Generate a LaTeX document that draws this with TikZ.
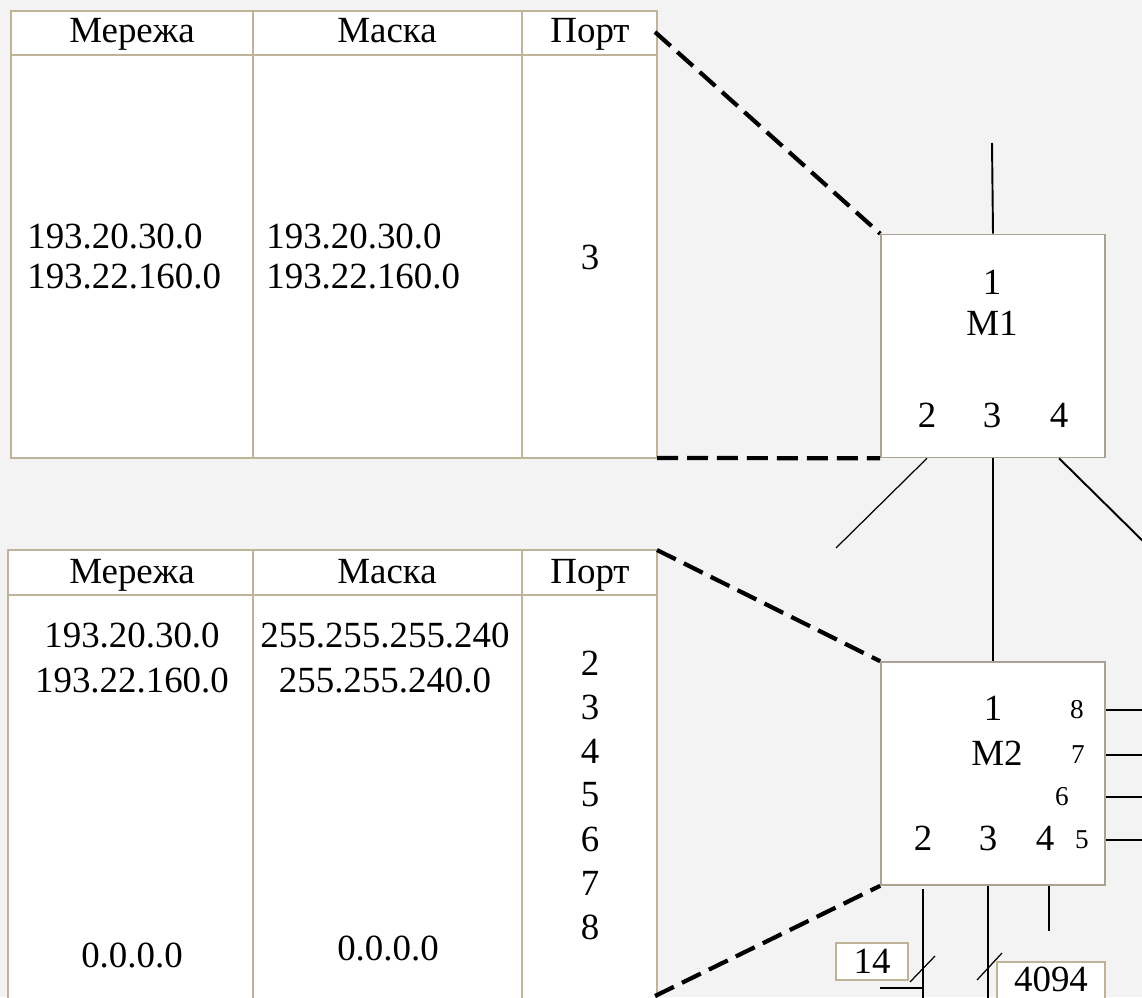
\documentclass[tikz,border=0pt]{standalone}
\usepackage{fontspec}
\setmainfont{Liberation Serif}
\definecolor{frame}{RGB}{192,180,152}
\definecolor{boxframe}{RGB}{170,162,146}
\definecolor{paper}{RGB}{243,243,243}

\begin{document}
\begin{tikzpicture}[x=0.02cm, y=-0.02cm,
    txt/.style={inner sep=0pt, font=\fontsize{21}{24}\selectfont},
    minor/.style={inner sep=0pt, font=\fontsize{15.5}{18}\selectfont},
    tbl/.style={draw=frame, line width=0.8pt},
    sw/.style={draw=boxframe, fill=white, line width=0.9pt, minimum width=4.48cm, minimum height=4.46cm, inner sep=0pt},
    link/.style={black, line width=1.1pt},
    lead/.style={black, line width=0.7pt},
    route/.style={black, line width=2.4pt, dash pattern=on 0.42cm off 0.18cm},
    tag/.style={draw=frame, fill=white, line width=0.6pt, inner sep=0pt, font=\fontsize{21}{24}\selectfont}]
    \clip (0,0) rectangle (1142,997);
    \fill[paper] (0,0) rectangle (1142,997);

    % routing table of M1
    \draw[tbl, fill=white] (11,11) rectangle (657,458);
    \draw[tbl] (11,55) -- (657,55) (253,11) -- (253,458) (522,11) -- (522,458);
    \coordinate (t1hd) at (655,32);
    \coordinate (t1se) at (657,458);
    \node[txt, anchor=base] (t1net) at (132,43) {Мережа};
    \node[txt, anchor=base] (t1mask) at (387,43) {Маска};
    \node[txt, anchor=base] (t1port) at (590,43) {Порт};
    \node[txt, anchor=west] (t1n1) at (27,236) {193.20.30.0};
    \node[txt, anchor=west] (t1n2) at (27,276) {193.22.160.0};
    \node[txt, anchor=west] (t1m1) at (266,236) {193.20.30.0};
    \node[txt, anchor=west] (t1m2) at (266,276) {193.22.160.0};
    \node[txt] (t1p) at (590,257) {3};

    % routing table of M2
    \draw[tbl, fill=white] (8,550) rectangle (657,1005);
    \draw[tbl] (8,595) -- (657,595) (253,550) -- (253,1005) (522,550) -- (522,1005);
    \coordinate (t2ne) at (657,550);
    \coordinate (t2se) at (655,996);
    \node[txt, anchor=base] (t2net) at (132,583) {Мережа};
    \node[txt, anchor=base] (t2mask) at (387,583) {Маска};
    \node[txt, anchor=base] (t2port) at (590,583) {Порт};
    \node[txt] (t2n1) at (132,635) {193.20.30.0};
    \node[txt] (t2n2) at (132,680) {193.22.160.0};
    \node[txt] (t2n0) at (132,955) {0.0.0.0};
    \node[txt] (t2m1) at (385,635) {255.255.255.240};
    \node[txt] (t2m2) at (385,680) {255.255.240.0};
    \node[txt] (t2m0) at (388,948) {0.0.0.0};
    \foreach \p in {2,...,8}
        \node[txt] (t2p\p) at (590,{663+44*(\p-2)}) {\p};

    % switch M1
    \node[sw] (m1) at (993,346) {};
    \node[txt] (m1p1) at (992,282) {1};
    \node[txt] (m1name) at (992,323) {M1};
    \node[txt] (m1p2) at (927,415) {2};
    \node[txt] (m1p3) at (992,415) {3};
    \node[txt] (m1p4) at (1059,415) {4};

    % switch M2
    \node[sw] (m2) at (993,773.5) {};
    \node[txt] (m2p1) at (993,708) {1};
    \node[txt] (m2name) at (997,753) {M2};
    \node[txt] (m2p2) at (923,838) {2};
    \node[txt] (m2p3) at (988,838) {3};
    \node[txt] (m2p4) at (1045,838) {4};
    \node[minor] (m2p5) at (1082,840) {5};
    \node[minor] (m2p6) at (1062,797) {6};
    \node[minor] (m2p7) at (1078,755) {7};
    \node[minor] (m2p8) at (1077,710) {8};

    % links
    \coordinate (up) at (992,143);
    \coordinate (m1left) at (836,548);
    \coordinate (m1right) at (1152,550);
    \draw[link] (up) -- (m1.north);
    \draw[lead] (m1p2 |- m1.south) -- (m1left);
    \draw[link] (m1.south) -- (m2.north);
    \draw[link] (m1p4 |- m1.south) -- (m1right);
    \foreach \p in {5,...,8}
        \draw[link] (m2.east |- m2p\p) -- ++(50,0);
    \draw[link] ([yshift=-0.06cm]m2p2 |- m2.south) -- ++(0,120);
    \draw[link] (m2p3 |- m2.south) -- ++(0,120);
    \draw[link] ([xshift=0.08cm]m2p4 |- m2.south) -- ++(0,45);
    \draw[lead] (910,982) -- (935,956);
    \draw[lead] (977,980) -- (1002,953);
    \draw[link] (880,988) -- (923,988);

    % address blocks
    \node[tag, minimum width=1.44cm, minimum height=0.74cm] (n14) at (872,961.5) {14};
    \draw[tag] (997,962) rectangle (1105,1005);
    \node[txt] (n4094) at (1051,979) {4094};

    % table to switch
    \draw[route] (t1hd) -- (m1.north west);
    \draw[route] (t1se) -- (m1.south west);
    \draw[route] (t2ne) -- (m2.north west);
    \draw[route] (t2se) -- (m2.south west);
\end{tikzpicture}
\end{document}
